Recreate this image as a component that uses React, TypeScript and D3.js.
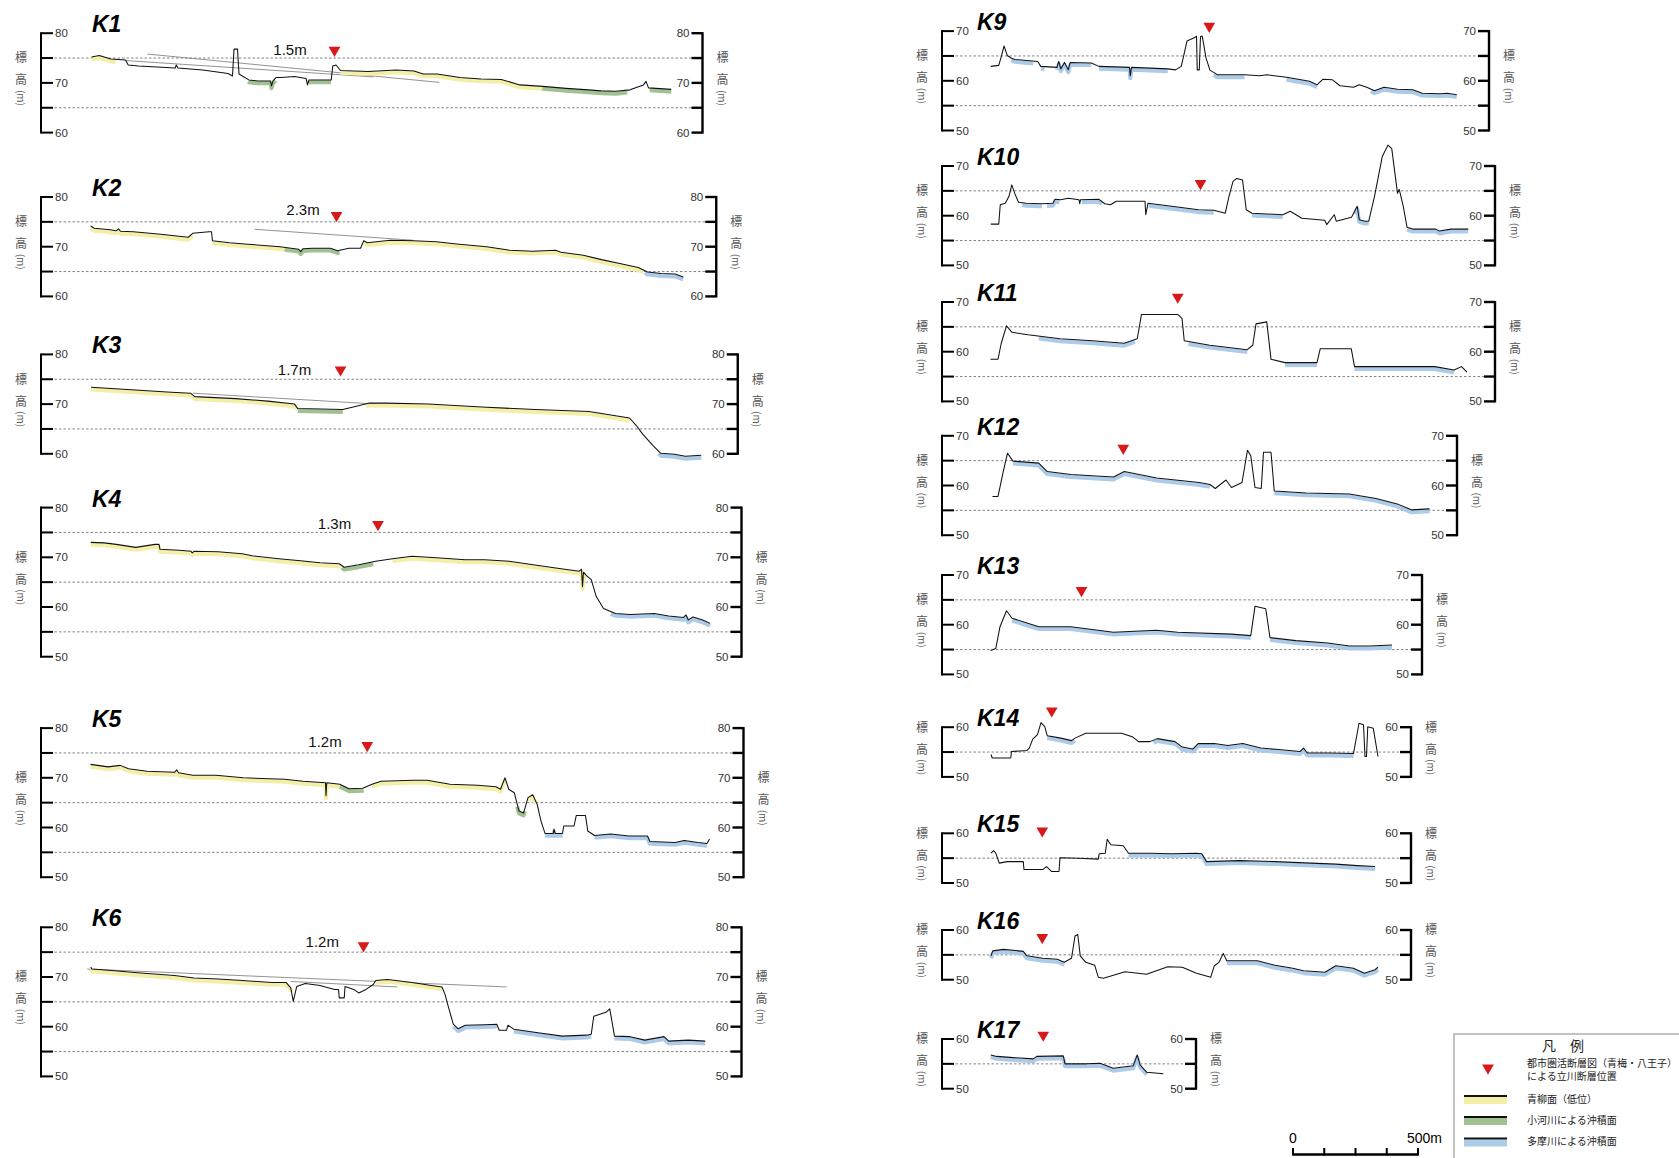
import React from "react";
import * as d3 from "d3";

type Pt = [number, number];
type Band = [string, number, number];
type Trend = [number, number, number, number];

// profiles: [distance (m) from the left axis, elevation (m)]
const k1Profile: Pt[] = [[202,75.2],[233,75.5],[279,74.8],[338,74.6],[349,73.6],[390,73.4],[537,73.0],[541,73.6],[548,73.0],[647,72.6],[748,71.9],[766,71.4],[772,76.8],[786,76.8],[792,71.8],[831,70.6],[867,70.4],[918,70.4],[922,69.4],[928,70.4],[941,71.1],[959,71.1],[1014,71.3],[1060,70.9],[1066,69.6],[1072,70.6],[1161,70.6],[1167,73.4],[1180,73.6],[1198,72.5],[1308,72.3],[1420,72.6],[1492,72.4],[1529,71.8],[1584,71.8],[1676,71.1],[1760,70.8],[1841,70.7],[1915,69.6],[2007,69.3],[2100,68.9],[2190,68.6],[2240,68.4],[2300,68.3],[2356,68.6],[2410,69.6],[2420,70.3],[2430,69.0],[2521,68.7]];
const k2Profile: Pt[] = [[198,74.2],[213,73.7],[277,73.4],[300,73.2],[310,73.6],[318,73.1],[369,73.0],[479,72.5],[589,71.9],[607,72.7],[672,73.0],[682,73.0],[686,71.2],[754,70.8],[828,70.5],[956,70.0],[1030,69.5],[1039,69.0],[1048,69.6],[1085,69.7],[1158,69.7],[1186,69.2],[1232,69.7],[1278,69.7],[1291,71.2],[1305,70.8],[1397,71.3],[1489,71.2],[1581,71.0],[1673,70.5],[1783,70.0],[1875,69.3],[1967,69.1],[2058,69.3],[2080,68.9],[2169,68.3],[2242,67.4],[2315,66.6],[2389,65.8],[2426,64.9],[2481,64.6],[2536,64.5],[2569,63.9]];
const k3Profile: Pt[] = [[200,73.4],[264,73.2],[393,72.8],[521,72.4],[598,72.2],[615,71.5],[778,71.1],[907,70.6],[1014,70.0],[1027,69.1],[1207,68.9],[1249,69.4],[1314,70.2],[1378,70.2],[1549,70.0],[1763,69.4],[1978,68.9],[2192,68.5],[2354,67.2],[2384,65.5],[2406,64.0],[2449,61.6],[2479,60.1],[2534,59.9],[2577,59.5],[2641,59.7]];
const k4Profile: Pt[] = [[199,73.0],[253,72.9],[301,72.6],[379,72.0],[456,72.6],[472,72.6],[476,71.6],[553,71.4],[600,71.2],[605,70.9],[612,71.2],[708,71.1],[805,70.7],[844,70.3],[951,69.7],[1038,69.3],[1116,68.9],[1193,68.7],[1213,68.0],[1271,68.5],[1339,69.2],[1406,69.7],[1484,70.2],[1581,69.9],[1697,69.5],[1775,69.5],[1872,69.2],[1969,68.5],[2066,67.8],[2153,67.2],[2162,67.6],[2166,64.1],[2170,67.0],[2182,66.3],[2201,65.5],[2221,62.1],[2250,59.7],[2298,58.7],[2356,58.5],[2453,58.7],[2511,58.2],[2570,57.9],[2580,58.4],[2589,57.4],[2608,58.0],[2647,57.4],[2676,56.7]];
const k5Profile: Pt[] = [[198,72.7],[268,72.2],[317,72.5],[350,71.8],[424,71.3],[534,71.1],[543,71.6],[550,71.0],[607,70.5],[699,70.5],[809,70.0],[975,69.7],[1048,69.3],[1138,69.0],[1140,66.4],[1143,69.0],[1195,68.7],[1232,67.8],[1287,67.9],[1324,68.7],[1360,69.3],[1489,69.5],[1544,69.5],[1636,68.7],[1746,68.5],[1820,68.2],[1838,67.7],[1856,70.0],[1871,67.7],[1893,67.0],[1912,63.3],[1930,62.9],[1948,66.0],[1967,66.6],[1985,64.6],[2000,61.3],[2016,58.8],[2049,58.8],[2052,59.7],[2056,58.8],[2086,58.8],[2091,60.3],[2132,60.3],[2141,62.4],[2178,62.4],[2187,59.3],[2214,58.4],[2279,58.7],[2352,58.3],[2426,58.3],[2435,57.2],[2536,57.0],[2573,57.4],[2628,57.0],[2664,56.8],[2674,57.7]];
const k6Profile: Pt[] = [[199,72.0],[204,71.6],[282,71.3],[398,70.8],[534,70.3],[612,69.8],[708,69.6],[805,69.3],[922,68.9],[980,68.9],[999,67.8],[1009,65.1],[1023,68.1],[1057,68.7],[1116,68.3],[1174,67.5],[1190,67.5],[1193,65.8],[1213,65.8],[1216,68.1],[1251,67.5],[1271,66.8],[1300,67.5],[1329,68.5],[1339,69.3],[1387,69.5],[1484,68.9],[1562,68.3],[1604,68.0],[1616,66.5],[1629,64.1],[1649,60.5],[1668,59.6],[1697,60.3],[1775,60.4],[1823,60.5],[1833,59.3],[1862,59.3],[1868,60.3],[1891,59.5],[1988,58.8],[2085,58.1],[2182,58.3],[2201,58.5],[2211,62.1],[2260,62.9],[2275,63.6],[2294,58.1],[2356,58.0],[2415,57.3],[2492,58.0],[2511,57.1],[2589,57.3],[2657,57.1]];
const k9Profile: Pt[] = [[195,62.9],[227,63.1],[238,65.0],[248,67.0],[261,65.1],[276,64.6],[291,64.3],[383,63.9],[395,62.9],[460,62.7],[467,63.9],[475,62.4],[490,63.7],[505,62.2],[513,63.7],[597,63.6],[628,62.9],[750,62.7],[753,61.0],[758,62.7],[903,62.4],[934,62.2],[957,62.9],[980,68.0],[1011,68.7],[1018,69.0],[1021,62.2],[1029,62.2],[1034,68.9],[1041,69.0],[1056,64.6],[1072,62.1],[1087,61.7],[1102,61.2],[1210,61.2],[1271,61.0],[1301,61.2],[1378,60.7],[1470,59.9],[1500,59.2],[1523,60.3],[1562,60.2],[1592,59.0],[1646,58.7],[1669,59.2],[1699,58.7],[1730,58.0],[1768,58.7],[1822,58.3],[1883,58.2],[1921,57.5],[1990,57.4],[2021,57.5],[2059,57.2]];
const k10Profile: Pt[] = [[195,58.3],[227,58.3],[233,62.2],[253,62.5],[268,63.9],[279,66.2],[291,64.5],[306,62.7],[337,62.5],[398,62.4],[444,62.5],[452,63.3],[475,63.2],[505,63.5],[548,63.2],[551,62.4],[554,63.2],[628,63.3],[651,62.4],[674,62.2],[697,62.9],[812,62.9],[815,60.2],[824,62.5],[903,62.0],[1026,61.2],[1087,61.1],[1133,60.5],[1148,63.9],[1164,66.9],[1179,67.5],[1202,67.2],[1217,61.2],[1240,60.5],[1363,60.2],[1393,60.9],[1439,59.5],[1531,59.1],[1539,58.2],[1569,60.2],[1577,58.9],[1638,59.7],[1661,61.9],[1669,59.2],[1692,58.9],[1707,58.9],[1730,63.9],[1761,71.9],[1784,74.2],[1799,73.5],[1822,64.5],[1829,65.3],[1845,61.9],[1860,57.7],[1883,57.3],[1975,57.3],[1990,56.9],[2036,57.3],[2105,57.3]];
const k11Profile: Pt[] = [[194,58.5],[224,58.5],[237,61.7],[258,65.2],[280,63.9],[344,63.4],[472,62.6],[601,62.2],[729,61.7],[781,62.6],[798,67.5],[943,67.5],[960,66.7],[969,62.2],[1071,61.3],[1221,60.4],[1243,61.3],[1256,65.6],[1299,66.0],[1316,58.5],[1372,57.8],[1500,57.8],[1513,60.6],[1637,60.6],[1650,57.0],[1800,57.0],[1971,57.0],[2048,56.3],[2078,57.0],[2100,55.9]];
const k12Profile: Pt[] = [[202,57.8],[224,57.8],[245,62.8],[262,66.5],[284,64.9],[387,64.5],[421,62.8],[515,62.2],[686,61.7],[729,62.8],[858,61.5],[1029,60.6],[1072,60.2],[1093,59.4],[1136,61.1],[1158,59.6],[1200,60.6],[1222,67.1],[1235,66.0],[1252,59.6],[1277,59.4],[1286,66.7],[1316,66.7],[1329,58.9],[1457,58.5],[1629,58.3],[1736,57.4],[1821,56.3],[1877,55.1],[1950,55.3]];
const k13Profile: Pt[] = [[194,54.8],[215,55.2],[232,59.6],[258,62.8],[280,61.3],[387,59.6],[515,59.6],[686,58.5],[858,58.9],[943,58.5],[1157,58.1],[1235,57.8],[1252,63.7],[1295,63.2],[1312,57.4],[1415,56.8],[1543,56.3],[1629,55.7],[1714,55.7],[1800,55.9]];
const k14Profile: Pt[] = [[196,54.5],[201,53.8],[275,53.8],[278,55.1],[339,55.3],[349,55.8],[363,57.6],[382,58.5],[396,60.9],[411,60.1],[421,58.3],[475,57.8],[518,57.3],[532,57.8],[575,58.8],[632,58.8],[718,58.8],[761,58.1],[786,57.1],[832,57.1],[861,57.7],[932,57.1],[961,56.0],[1003,55.6],[1025,56.7],[1089,56.7],[1143,56.3],[1203,56.7],[1275,55.8],[1346,55.5],[1432,55.1],[1446,55.8],[1461,54.8],[1546,54.8],[1646,54.7],[1668,60.8],[1686,60.5],[1692,54.1],[1698,54.1],[1703,60.1],[1725,59.8],[1744,54.1]];
const k15Profile: Pt[] = [[196,56.0],[206,56.5],[215,56.0],[229,54.0],[261,54.3],[325,54.3],[328,52.7],[403,52.7],[418,53.3],[439,52.3],[468,52.3],[472,55.1],[546,55.0],[625,54.8],[629,55.9],[653,56.0],[661,58.8],[675,57.7],[725,57.5],[746,56.0],[832,56.0],[918,55.9],[1018,56.0],[1039,55.9],[1058,54.3],[1189,54.5],[1332,54.3],[1475,54.0],[1575,53.8],[1661,53.5],[1732,53.3]];
const k16Profile: Pt[] = [[196,54.8],[203,55.8],[246,56.1],[325,55.7],[339,54.8],[403,54.3],[461,54.1],[489,53.5],[518,54.3],[532,58.8],[543,59.1],[553,54.8],[575,53.5],[611,52.9],[625,50.5],[646,50.3],[732,51.6],[818,51.1],[903,52.6],[961,52.5],[1018,51.3],[1075,50.5],[1089,52.8],[1108,53.5],[1125,55.3],[1139,53.8],[1261,53.8],[1332,52.9],[1403,52.3],[1446,51.8],[1532,51.5],[1575,52.8],[1646,52.3],[1689,51.3],[1732,52.0],[1744,52.5]];
const k17Profile: Pt[] = [[195,56.8],[219,56.5],[272,56.3],[365,56.0],[379,56.5],[485,56.6],[492,55.0],[579,55.0],[632,55.1],[685,54.1],[765,54.6],[781,56.8],[792,54.8],[819,53.3],[885,53.0]];

// surface classes under the profile: y = 青柳面, g = 小河川, b = 多摩川
const k1Bands: Band[] = [["y",202,300],["g",828,938],["g",1071,1160],["y",1198,2005],["g",2005,2345],["g",2435,2521]];
const k2Bands: Band[] = [["y",198,607],["y",686,975],["g",975,1195],["y",1291,2410],["b",2415,2569]];
const k3Bands: Band[] = [["y",200,1020],["g",1027,1207],["y",1300,2354],["b",2470,2641]];
const k4Bands: Band[] = [["y",199,1200],["g",1203,1329],["y",1406,2182],["b",2279,2676]];
const k5Bands: Band[] = [["y",198,1195],["g",1195,1290],["y",1324,1856],["g",1905,1935],["y",1948,1978],["b",2016,2086],["b",2214,2664]];
const k6Bands: Band[] = [["y",199,1000],["y",1339,1604],["b",1649,1823],["b",1891,2201],["b",2294,2657]];
const k9Bands: Band[] = [["b",276,365],["b",395,410],["b",460,597],["b",628,903],["b",1087,1210],["b",1378,1500],["b",1715,2059]];
const k10Bands: Band[] = [["b",320,400],["b",420,470],["b",560,640],["b",827,1087],["b",1240,1363],["b",1650,1707],["b",1860,2105]];
const k11Bands: Band[] = [["b",387,772],["b",986,1221],["b",1372,1500],["b",1650,2048]];
const k12Bands: Band[] = [["b",284,1072],["b",1329,1950]];
const k13Bands: Band[] = [["b",280,1235],["b",1312,1800]];
const k14Bands: Band[] = [["b",421,532],["b",846,1646]];
const k15Bands: Band[] = [["b",746,1732]];
const k16Bands: Band[] = [["b",196,489],["b",1139,1744]];
const k17Bands: Band[] = [["b",195,819]];

// thin gray reference lines [d0, z0, d1, z1]
const k1Trends: Trend[] = [[426,75.8,1593,70.1],[338,74.5,1330,71.2]];
const k2Trends: Trend[] = [[855,73.5,1489,71.3]];
const k3Trends: Trend[] = [[607,72.2,1678,69.0]];
const k6Trends: Trend[] = [[185,71.6,1862,68.0],[999,69.1,1426,68.0]];

const panelNames = ["K1","K2","K3","K4","K5","K6","K9","K10","K11","K12","K13","K14","K15","K16","K17"];
const faultMarks: Pt[] = [[1174,76.6],[1182,76.3],[1198,76.9],[1348,76.6],[1305,76.5],[1290,76.3],[1069,71.0],[1034,66.5],[943,71.0],[725,67.5],[558,66.9],[439,63.3],[401,60.5],[401,58.5],[405,60.8]];
const throwLabels = ["1.5m","2.3m","1.7m","1.3m","1.2m","1.2m"];
const throwPos: Pt[] = [[996,76.8],[1048,77.4],[1014,76.9],[1174,76.8],[1136,77.4],[1125,77.1]];
const elevTop = [80,80,80,80,80,80,70,70,70,70,70,60,60,60,60];
const elevBottom = [60,60,60,50,50,50,50,50,50,50,50,50,50,50,50];
const sectionLength = [2646,2701,2787,2802,2810,2802,2188,2212,2212,2060,1920,1876,1876,1876,1016];

const profiles = [k1Profile,k2Profile,k3Profile,k4Profile,k5Profile,k6Profile,k9Profile,k10Profile,k11Profile,k12Profile,k13Profile,k14Profile,k15Profile,k16Profile,k17Profile];
const bandsList = [k1Bands,k2Bands,k3Bands,k4Bands,k5Bands,k6Bands,k9Bands,k10Bands,k11Bands,k12Bands,k13Bands,k14Bands,k15Bands,k16Bands,k17Bands];
const trendsList: Trend[][] = [k1Trends,k2Trends,k3Trends,[],[],k6Trends,[],[],[],[],[],[],[],[],[]];

const legendItems = ["青柳面（低位）","小河川による沖積面","多摩川による沖積面"];
const scaleTicks = [0,125,250,375,500];

// layout
const PX_PER_M = 0.25;
const PX_PER_ELEV = 4.97;
const colX = [41, 942];
const panelTopY = [33.2,197,354.4,507.6,728.1,927.3,31.1,166,302,435.8,575,727.2,833.3,930,1039];
const bandColor: Record<string,string> = { y: "#f4efa6", g: "#a0c291", b: "#abcbe9" };
const red = "#d7191c";

function sub(profile: Pt[], d0: number, d1: number): Pt[] {
  const interp = (d: number) => {
    for (let i = 0; i < profile.length - 1; i++) {
      const a = profile[i], b = profile[i + 1];
      if (d >= a[0] && d <= b[0]) return a[1] + (b[1] - a[1]) * (d - a[0]) / (b[0] - a[0] || 1);
    }
    return d < profile[0][0] ? profile[0][1] : profile[profile.length - 1][1];
  };
  return [[d0, interp(d0)] as Pt, ...profile.filter(p => p[0] > d0 && p[0] < d1), [d1, interp(d1)] as Pt];
}

function Panel({ i }: { i: number }) {
  const x0 = colX[i < 6 ? 0 : 1];
  const top = elevTop[i], bot = elevBottom[i];
  const yTop = panelTopY[i];
  const x = d3.scaleLinear().domain([0, sectionLength[i]]).range([x0, x0 + sectionLength[i] * PX_PER_M]);
  const y = d3.scaleLinear().domain([bot, top]).range([yTop + (top - bot) * PX_PER_ELEV, yTop]);
  const line = d3.line<Pt>().x(p => x(p[0])).y(p => y(p[1]));
  const x1 = x(sectionLength[i]);
  const major = d3.range(bot, top + 0.1, 10);
  const minor = d3.range(bot + 5, top, 10);
  const all = d3.range(bot, top + 0.1, 5);
  const midY = (y(top) + y(bot)) / 2 - 2;
  const titleX = i < 6 ? 92 : 977;

  const vLabel = (lx: number) => (
    <g fill="#555" fontFamily="'Noto Sans CJK JP', sans-serif" fontSize={12}>
      <text x={lx} y={midY - 24} textAnchor="middle" dominantBaseline="central">標</text>
      <text x={lx} y={midY - 2} textAnchor="middle" dominantBaseline="central">高</text>
      <text transform={`translate(${lx},${midY + 17}) rotate(90)`} textAnchor="middle" dominantBaseline="central" fontSize={10}>(m)</text>
    </g>
  );

  return (
    <g>
      {minor.map(v => (
        <line key={"g" + v} x1={x0} x2={x1} y1={y(v)} y2={y(v)} stroke="#777" strokeWidth={0.9} strokeDasharray="2.5,2" />
      ))}
      {trendsList[i].map((t, k) => (
        <line key={"t" + k} x1={x(t[0])} y1={y(t[1])} x2={x(t[2])} y2={y(t[3])} stroke="#777" strokeWidth={0.8} />
      ))}
      {bandsList[i].map((b, k) => (
        <path key={"b" + k} d={line(sub(profiles[i], b[1], b[2])) || ""} transform="translate(0,2.4)"
          fill="none" stroke={bandColor[b[0]]} strokeWidth={4} strokeLinejoin="round" />
      ))}
      <path d={line(profiles[i]) || ""} fill="none" stroke="#111" strokeWidth={1.05} strokeLinejoin="round" />

      {/* axes */}
      <line x1={x0} x2={x0} y1={y(top) - 1} y2={y(bot) + 1} stroke="#000" strokeWidth={2} />
      <line x1={x1} x2={x1} y1={y(top) - 1} y2={y(bot) + 1} stroke="#000" strokeWidth={2.4} />
      {all.map(v => (
        <g key={"k" + v}>
          <line x1={x0} x2={x0 + 12} y1={y(v)} y2={y(v)} stroke="#000" strokeWidth={2} />
          <line x1={x1 - 11} x2={x1} y1={y(v)} y2={y(v)} stroke="#000" strokeWidth={2.4} />
        </g>
      ))}
      {major.map(v => (
        <g key={"m" + v} fontSize={11.5} fill="#333">
          <text x={x0 + 14} y={y(v)} dominantBaseline="central">{v}</text>
          <text x={x1 - 13} y={y(v)} dominantBaseline="central" textAnchor="end">{v}</text>
        </g>
      ))}
      {vLabel(x0 - 20)}
      {vLabel(x1 + 20)}

      <text x={titleX} y={yTop - 1} fontSize={23} fontWeight="bold" fontStyle="italic" fill="#000">{panelNames[i]}</text>
      <path d={d3.symbol().type(d3.symbolTriangle).size(60)() || ""}
        transform={`translate(${x(faultMarks[i][0])},${y(faultMarks[i][1])}) rotate(180)`} fill={red} />
      {i < 6 && (
        <text x={x(throwPos[i][0])} y={y(throwPos[i][1])} textAnchor="middle" dominantBaseline="central" fontSize={15} fill="#111">
          {throwLabels[i]}
        </text>
      )}
    </g>
  );
}

function Legend() {
  const sx = d3.scaleLinear().domain([0, 500]).range([1293, 1293 + 500 * PX_PER_M]);
  const swatch = ["y", "g", "b"];
  const rowY = [1096, 1117, 1138.5];
  return (
    <g>
      <rect x={1454} y={1034} width={240} height={140} fill="#fff" stroke="#888" strokeWidth={1} />
      <g fontFamily="'Noto Sans CJK JP', sans-serif" fill="#222">
        <text x={1563} y={1051} fontSize={14} textAnchor="middle">凡　例</text>
        <path d={d3.symbol().type(d3.symbolTriangle).size(60)() || ""} transform="translate(1488,1068) rotate(180)" fill={red} />
        <text x={1527} y={1067} fontSize={10}>都市圏活断層図（青梅・八王子）</text>
        <text x={1527} y={1080} fontSize={10}>による立川断層位置</text>
        {legendItems.map((t, k) => (
          <g key={t}>
            <rect x={1464} y={rowY[k] + 1} width={43} height={7} fill={bandColor[swatch[k]]} />
            <line x1={1464} x2={1507} y1={rowY[k]} y2={rowY[k]} stroke="#111" strokeWidth={2} />
            <text x={1527} y={rowY[k] + 6.5} fontSize={10}>{t}</text>
          </g>
        ))}
      </g>
      {/* scale bar */}
      <line x1={sx(0)} x2={sx(500)} y1={1154.5} y2={1154.5} stroke="#000" strokeWidth={2.5} />
      {scaleTicks.map(v => (
        <line key={v} x1={sx(v)} x2={sx(v)} y1={1148} y2={1155.5} stroke="#000" strokeWidth={2} />
      ))}
      <text x={sx(0)} y={1143} fontSize={14} textAnchor="middle">0</text>
      <text x={sx(500) - 11} y={1143} fontSize={14}>500m</text>
    </g>
  );
}

export default function App() {
  return (
    <svg width={1679} height={1158} style={{ position: "absolute", left: 0, top: 0, background: "#fff" }}
      fontFamily="'Liberation Sans', Arial, sans-serif">
      {panelNames.map((_, i) => <Panel key={i} i={i} />)}
      <Legend />
    </svg>
  );
}
